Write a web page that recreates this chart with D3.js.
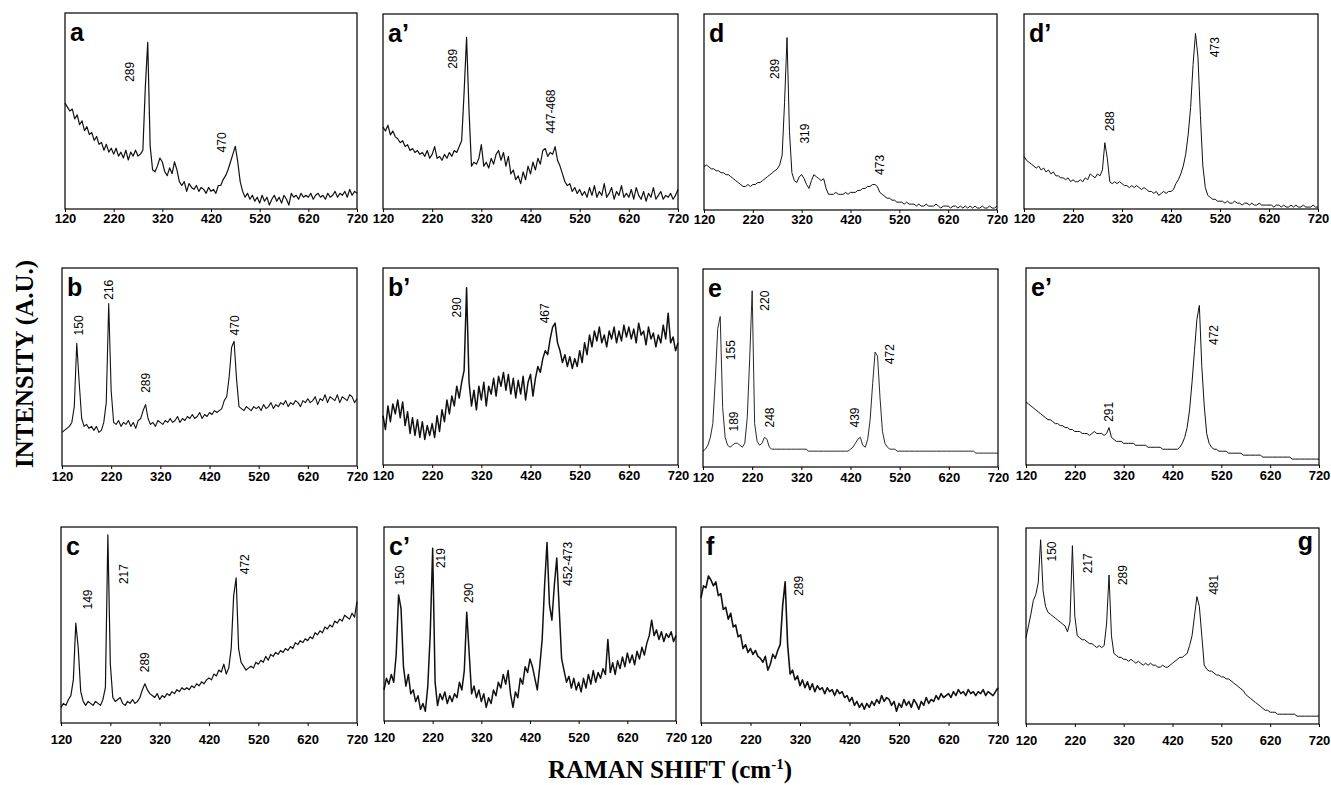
<!DOCTYPE html>
<html>
<head>
<meta charset="utf-8">
<script src="https://cdnjs.cloudflare.com/ajax/libs/d3/7.8.5/d3.min.js"></script>
<style>
body { margin: 0; background: #fff; }
</style>
</head>
<body>
<div id="chart-area"></div>
<script>
// RAMAN SHIFT GRID (cm-1), ONE SAMPLE EVERY 5 cm-1 FROM 120 TO 720
const shifts = d3.range(120, 721, 5)
const tickValues = [120, 220, 320, 420, 520, 620, 720]

// INTENSITIES (A.U., 0 = FRAME BOTTOM, 100 = FRAME TOP)
// each row covers 100 cm-1 (20 samples), the last row also holds 720
const specA = [
  54, 52, 50, 51, 46, 48, 43, 45, 40, 42, 38, 39, 35, 37, 33, 34, 30, 33, 29, 31,
  28, 31, 27, 29, 26, 30, 25, 29, 27, 30, 27, 28, 30, 62, 85, 32, 20, 19, 22, 26,
  24, 19, 17, 21, 18, 24, 20, 14, 12, 14, 9, 13, 11, 10, 12, 9, 11, 10, 8, 11,
  9, 10, 8, 12, 12, 15, 17, 20, 24, 28, 32, 24, 14, 9, 6, 8, 5, 7, 4, 6,
  3, 7, 4, 6, 2, 5, 7, 4, 6, 3, 7, 5, 2, 8, 6, 7, 5, 8, 6, 7,
  6, 8, 5, 7, 8, 6, 7, 5, 8, 6, 7, 9, 6, 8, 7, 9, 6, 10, 7, 9, 8
]
const specA2 = [
  42, 40, 43, 38, 40, 37, 36, 34, 35, 32, 33, 30, 31, 29, 30, 28, 29, 27, 30, 26,
  28, 32, 26, 27, 25, 28, 26, 29, 27, 30, 29, 32, 35, 60, 88, 50, 22, 24, 23, 26,
  33, 22, 24, 21, 26, 23, 28, 30, 25, 29, 22, 27, 18, 20, 15, 17, 13, 19, 15, 22,
  18, 24, 20, 26, 23, 30, 31, 27, 29, 28, 32, 25, 22, 18, 14, 12, 13, 9, 11, 8,
  10, 7, 9, 6, 11, 7, 12, 6, 9, 7, 13, 6, 8, 11, 5, 9, 7, 12, 6, 8,
  6, 10, 5, 11, 7, 5, 9, 4, 8, 6, 11, 5, 7, 9, 5, 7, 6, 8, 5, 7, 10
]
const specD = [
  22, 23, 22, 21, 21, 20, 20, 19, 19, 18, 18, 17, 16, 15, 14, 13, 12, 12, 13, 12,
  13, 13, 14, 14, 15, 16, 17, 18, 19, 20, 21, 23, 28, 55, 88, 40, 19, 15, 14, 17,
  18, 16, 13, 11, 15, 18, 17, 16, 15, 16, 11, 8, 8, 8, 9, 8, 8, 8, 9, 8,
  9, 9, 9, 10, 10, 11, 11, 12, 12, 13, 13, 12, 9, 8, 7, 6, 6, 5, 5, 4,
  4, 4, 3, 4, 3, 3, 3, 2, 3, 2, 2, 3, 2, 2, 2, 3, 2, 1, 2, 2,
  2, 1, 2, 2, 1, 2, 1, 2, 1, 2, 1, 2, 1, 1, 2, 1, 1, 2, 1, 1, 2
]
const specD2 = [
  27, 25, 24, 23, 22, 21, 22, 20, 21, 19, 20, 18, 19, 17, 17, 16, 16, 15, 16, 14,
  15, 14, 14, 15, 14, 16, 15, 18, 17, 16, 18, 17, 20, 34, 26, 14, 13, 14, 13, 14,
  13, 12, 12, 11, 12, 11, 12, 11, 10, 11, 10, 9, 9, 8, 9, 7, 8, 9, 8, 9,
  9, 10, 13, 15, 18, 22, 28, 38, 52, 74, 90, 78, 48, 22, 11, 7, 6, 5, 5, 4,
  4, 4, 3, 4, 3, 3, 4, 3, 3, 2, 3, 3, 2, 3, 2, 2, 3, 2, 2, 2,
  2, 2, 1, 2, 2, 1, 2, 1, 1, 2, 1, 2, 1, 1, 2, 1, 1, 1, 2, 1, 1
]
const specB = [
  17, 18, 19, 20, 22, 30, 62, 42, 24, 20, 21, 19, 20, 18, 20, 17, 18, 22, 32, 82,
  38, 22, 21, 23, 20, 22, 21, 23, 20, 22, 19, 23, 24, 28, 31, 24, 21, 22, 20, 23,
  22, 21, 23, 22, 24, 22, 23, 25, 22, 24, 23, 25, 24, 26, 24, 25, 27, 24, 26, 25,
  27, 26, 28, 27, 28, 29, 33, 35, 45, 60, 63, 44, 30, 29, 28, 30, 29, 28, 30, 29,
  30, 28, 31, 29, 30, 32, 29, 31, 30, 32, 31, 33, 30, 32, 31, 33, 32, 30, 33, 32,
  34, 32, 33, 35, 31, 34, 33, 36, 32, 35, 34, 33, 36, 32, 35, 34, 33, 36, 35, 32, 34
]
const specB2 = [
  25, 18, 30, 22, 31, 26, 33, 24, 32, 20, 27, 16, 24, 15, 23, 14, 22, 13, 20, 15,
  21, 14, 25, 17, 28, 22, 33, 26, 35, 30, 40, 34, 42, 48, 90, 42, 30, 38, 28, 40,
  33, 42, 30, 40, 36, 44, 35, 45, 40, 47, 38, 46, 36, 44, 34, 43, 36, 45, 33, 42,
  46, 35, 44, 50, 47, 54, 58, 56, 64, 70, 72, 62, 58, 52, 56, 50, 55, 49, 54, 50,
  58, 52, 62, 56, 66, 60, 68, 63, 70, 62, 66, 60, 68, 64, 70, 62, 68, 63, 71, 65,
  70, 64, 69, 62, 72, 66, 68, 61, 70, 64, 67, 60, 66, 62, 71, 64, 77, 62, 65, 58, 62
]
const specE = [
  8, 9, 11, 15, 22, 44, 70, 76, 30, 15, 11, 10, 11, 12, 12, 11, 10, 12, 25, 55,
  89, 22, 13, 11, 12, 15, 14, 10, 9, 9, 9, 9, 9, 9, 9, 9, 9, 9, 9, 9,
  9, 9, 9, 8, 8, 8, 8, 8, 8, 8, 8, 8, 8, 8, 8, 8, 8, 8, 8, 8,
  9, 10, 12, 14, 15, 11, 10, 14, 24, 42, 58, 56, 35, 18, 12, 10, 9, 9, 9, 8,
  8, 8, 8, 8, 8, 8, 8, 8, 8, 8, 8, 8, 8, 8, 8, 8, 8, 8, 8, 8,
  8, 8, 8, 8, 8, 8, 8, 8, 8, 8, 8, 7, 7, 7, 7, 7, 7, 7, 7, 7, 7
]
const specE2 = [
  32, 31, 30, 29, 28, 27, 26, 25, 24, 23, 23, 22, 21, 21, 20, 20, 19, 19, 18, 18,
  17, 17, 17, 16, 16, 16, 15, 16, 17, 16, 16, 16, 15, 16, 19, 14, 13, 12, 12, 12,
  11, 11, 11, 11, 11, 10, 10, 10, 10, 10, 9, 9, 9, 9, 9, 9, 8, 8, 8, 8,
  8, 8, 8, 9, 11, 14, 19, 28, 42, 58, 74, 81, 50, 30, 16, 11, 9, 8, 8, 7,
  7, 7, 7, 6, 6, 6, 6, 6, 6, 5, 5, 5, 5, 5, 5, 5, 5, 4, 4, 4,
  4, 4, 4, 4, 4, 4, 4, 4, 4, 3, 3, 3, 3, 3, 3, 3, 3, 3, 3, 3, 3
]
const specC = [
  8, 10, 9, 12, 14, 22, 51, 38, 16, 11, 9, 11, 10, 9, 11, 10, 9, 12, 18, 96,
  30, 13, 11, 12, 13, 10, 9, 11, 10, 12, 10, 11, 13, 17, 20, 17, 15, 14, 13, 15,
  12, 14, 13, 15, 14, 16, 15, 17, 16, 18, 17, 18, 17, 19, 18, 20, 19, 21, 20, 22,
  23, 22, 25, 24, 27, 26, 30, 25, 28, 38, 65, 74, 38, 31, 29, 27, 28, 29, 28, 31,
  30, 32, 31, 34, 32, 35, 34, 36, 35, 37, 36, 38, 37, 39, 38, 41, 40, 42, 41, 43,
  42, 44, 43, 46, 45, 47, 46, 49, 48, 50, 49, 52, 51, 53, 52, 55, 54, 53, 56, 54, 62
]
const specC2 = [
  16, 22, 19, 24, 20, 34, 65, 58, 28, 18, 24, 14, 16, 10, 13, 6, 9, 5, 18, 45,
  89, 20, 8, 14, 11, 15, 9, 13, 10, 14, 12, 20, 16, 26, 56, 35, 14, 18, 12, 16,
  10, 14, 7, 12, 9, 16, 13, 20, 17, 24, 19, 26, 14, 7, 15, 12, 22, 19, 28, 25,
  32, 28, 22, 16, 28, 42, 70, 92, 60, 52, 70, 84, 58, 32, 26, 20, 23, 17, 22, 16,
  20, 15, 22, 17, 24, 19, 26, 20, 25, 22, 27, 24, 42, 25, 30, 24, 31, 27, 33, 28,
  35, 30, 34, 29, 36, 32, 38, 34, 40, 44, 52, 44, 47, 42, 46, 41, 45, 43, 46, 41, 44
]
const specF = [
  64, 70, 69, 75, 73, 70, 72, 65, 66, 58, 59, 53, 56, 49, 50, 44, 45, 38, 40, 36,
  38, 35, 37, 34, 33, 31, 34, 27, 30, 35, 33, 37, 40, 60, 72, 40, 25, 27, 22, 24,
  19, 22, 18, 21, 17, 20, 16, 19, 17, 18, 15, 18, 16, 17, 14, 17, 15, 16, 13, 14,
  11, 13, 9, 11, 8, 10, 7, 10, 8, 11, 9, 12, 10, 14, 11, 13, 12, 9, 11, 6,
  10, 8, 12, 9, 11, 8, 12, 10, 7, 11, 9, 13, 10, 12, 11, 14, 12, 15, 13, 14,
  15, 13, 16, 14, 17, 15, 16, 14, 17, 15, 16, 14, 16, 15, 17, 14, 16, 15, 14, 16, 18
]
const specG = [
  44, 50, 56, 63, 66, 72, 94, 68, 60, 57, 56, 55, 54, 53, 52, 51, 50, 47, 52, 91,
  55, 45, 44, 43, 43, 42, 41, 41, 40, 39, 40, 39, 40, 51, 76, 45, 36, 35, 34, 34,
  33, 33, 32, 33, 32, 31, 32, 31, 30, 31, 30, 31, 30, 30, 29, 29, 30, 29, 29, 30,
  31, 32, 33, 34, 34, 35, 36, 40, 45, 55, 65, 60, 45, 30, 28, 27, 27, 26, 25, 25,
  24, 24, 23, 23, 22, 21, 20, 19, 18, 17, 15, 14, 13, 12, 11, 10, 9, 8, 7, 7,
  6, 6, 6, 5, 5, 5, 5, 5, 5, 5, 5, 4, 4, 4, 4, 4, 4, 4, 4, 4, 4
]

// PEAK LABELS: [text, shift (cm-1) of label centre, intensity of label centre]
const labelsA = [['289', 254, 70], ['470', 442, 34]]
const labelsA2 = [['289', 262, 77], ['447-468', 462, 50]]
const labelsD = [['289', 266, 72], ['319', 327, 39], ['473', 481, 23]]
const labelsD2 = [['288', 295, 45], ['473', 509, 83]]
const labelsB = [['150', 155, 71], ['216', 215, 89], ['289', 290, 42], ['470', 472, 71]]
const labelsB2 = [['290', 271, 80], ['467', 450, 77]]
const labelsE = [['155', 176, 59], ['220', 246, 84], ['189', 183, 23], ['248', 256, 25], ['439', 429, 25], ['472', 500, 57]]
const labelsE2 = [['291', 289, 27], ['472', 505, 66]]
const labelsC = [['149', 175, 63], ['217', 248, 76], ['289', 291, 31], ['472', 492, 81]]
const labelsC2 = [['150', 153, 75], ['219', 238, 84], ['290', 295, 66], ['452-473', 499, 81]]
const labelsF = [['289', 317, 70]]
const labelsG = [['150', 173, 88], ['217', 246, 82], ['289', 318, 76], ['481', 505, 71]]

// PANEL FRAMES (page px): letter, [left, top, right, bottom], spectrum, labels,
// tick label gap, line weight (noisier spectra look heavier)
const panels = [
  { letter: 'a', box: [65, 13, 357, 209], spec: specA, labels: labelsA, pad: 2, weight: 1.2 },
  { letter: 'a\u2019', box: [383, 14, 678, 209], spec: specA2, labels: labelsA2, pad: 2, weight: 1.2 },
  { letter: 'd', box: [704, 14, 997, 210], spec: specD, labels: labelsD, pad: 2, weight: 1 },
  { letter: 'd\u2019', box: [1024, 14, 1318, 209], spec: specD2, labels: labelsD2, pad: 2, weight: 1 },
  { letter: 'b', box: [62, 268, 357, 466], spec: specB, labels: labelsB, pad: 3, weight: 1.1 },
  { letter: 'b\u2019', box: [383, 268, 678, 465], spec: specB2, labels: labelsB2, pad: 3, weight: 1.5 },
  { letter: 'e', box: [703, 269, 998, 467], spec: specE, labels: labelsE, pad: 3, weight: 0.9 },
  { letter: 'e\u2019', box: [1026, 268, 1319, 465], spec: specE2, labels: labelsE2, pad: 3, weight: 1 },
  { letter: 'c', box: [61, 527, 357, 723], spec: specC, labels: labelsC, pad: 9, weight: 1.2 },
  { letter: 'c\u2019', box: [384, 527, 676, 721], spec: specC2, labels: labelsC2, pad: 9, weight: 1.5 },
  { letter: 'f', box: [701, 527, 998, 723], spec: specF, labels: labelsF, pad: 9, weight: 1.6 },
  { letter: 'g', box: [1026, 528, 1319, 724], spec: specG, labels: labelsG, pad: 9, weight: 1, right: true }
]

const svg = d3.select('#chart-area')
              .append('svg')
              .attr('width', 1331)
              .attr('height', 785)

svg.append('rect')
   .attr('width', 1331)
   .attr('height', 785)
   .attr('fill', '#fff')

panels.forEach(p => {
    const [x0, y0, x1, y1] = p.box
    const w = x1 - x0
    const h = y1 - y0

    const x = d3.scaleLinear().domain([120, 720]).range([0, w])
    const y = d3.scaleLinear().domain([0, 100]).range([h, 0])

    const g = svg.append('g')
                 .attr('transform', 'translate(' + x0 + ',' + y0 + ')')

    // X AXIS
    const axis = g.append('g')
                  .attr('transform', 'translate(0,' + h + ')')
                  .call(d3.axisBottom(x)
                          .tickValues(tickValues)
                          .tickSize(3)
                          .tickPadding(p.pad)
                          .tickFormat(d3.format('d')))
    axis.select('.domain').remove()
    axis.selectAll('line').attr('stroke', '#000')
    axis.selectAll('text')
        .attr('fill', '#000')
        .attr('font-family', 'Arial, "Liberation Sans", sans-serif')
        .attr('font-weight', 'bold')
        .attr('font-size', '13px')

    // SPECTRUM
    const line = d3.line()
                   .x((d, i) => x(shifts[i]))
                   .y(d => y(d))
    g.append('path')
     .datum(p.spec)
     .attr('d', line)
     .attr('fill', 'none')
     .attr('stroke', '#111')
     .attr('stroke-width', p.weight)
     .attr('stroke-linejoin', 'round')

    // FRAME
    g.append('rect')
     .attr('width', w)
     .attr('height', h)
     .attr('fill', 'none')
     .attr('stroke', '#000')
     .attr('stroke-width', 1.2)

    // PANEL LETTER
    g.append('text')
     .attr('x', p.right ? w - 6 : 5)
     .attr('y', p.right ? 22 : 28)
     .attr('text-anchor', p.right ? 'end' : 'start')
     .attr('font-family', 'Arial, "Liberation Sans", sans-serif')
     .attr('font-weight', 'bold')
     .attr('font-size', '25px')
     .text(p.letter)

    // PEAK LABELS
    g.selectAll('.peak')
     .data(p.labels)
     .enter()
     .append('text')
     .attr('class', 'peak')
     .attr('transform', d => 'translate(' + x(d[1]) + ',' + y(d[2]) + ') rotate(-90)')
     .attr('text-anchor', 'middle')
     .attr('dominant-baseline', 'central')
     .attr('font-family', 'Arial, "Liberation Sans", sans-serif')
     .attr('font-size', '12px')
     .text(d => d[0])
})

// AXIS TITLES
svg.append('text')
   .attr('transform', 'translate(33,364) rotate(-90)')
   .attr('text-anchor', 'middle')
   .attr('font-family', '"Times New Roman", "Liberation Serif", serif')
   .attr('font-weight', 'bold')
   .attr('font-size', '25px')
   .text('INTENSITY (A.U.)')

const xTitle = svg.append('text')
                  .attr('x', 670)
                  .attr('y', 778)
                  .attr('text-anchor', 'middle')
                  .attr('font-family', '"Times New Roman", "Liberation Serif", serif')
                  .attr('font-weight', 'bold')
                  .attr('font-size', '25px')
xTitle.append('tspan').text('RAMAN SHIFT (cm')
xTitle.append('tspan').attr('dy', -9).attr('font-size', '15px').text('-1')
xTitle.append('tspan').attr('dy', 9).text(')')
</script>
</body>
</html>
